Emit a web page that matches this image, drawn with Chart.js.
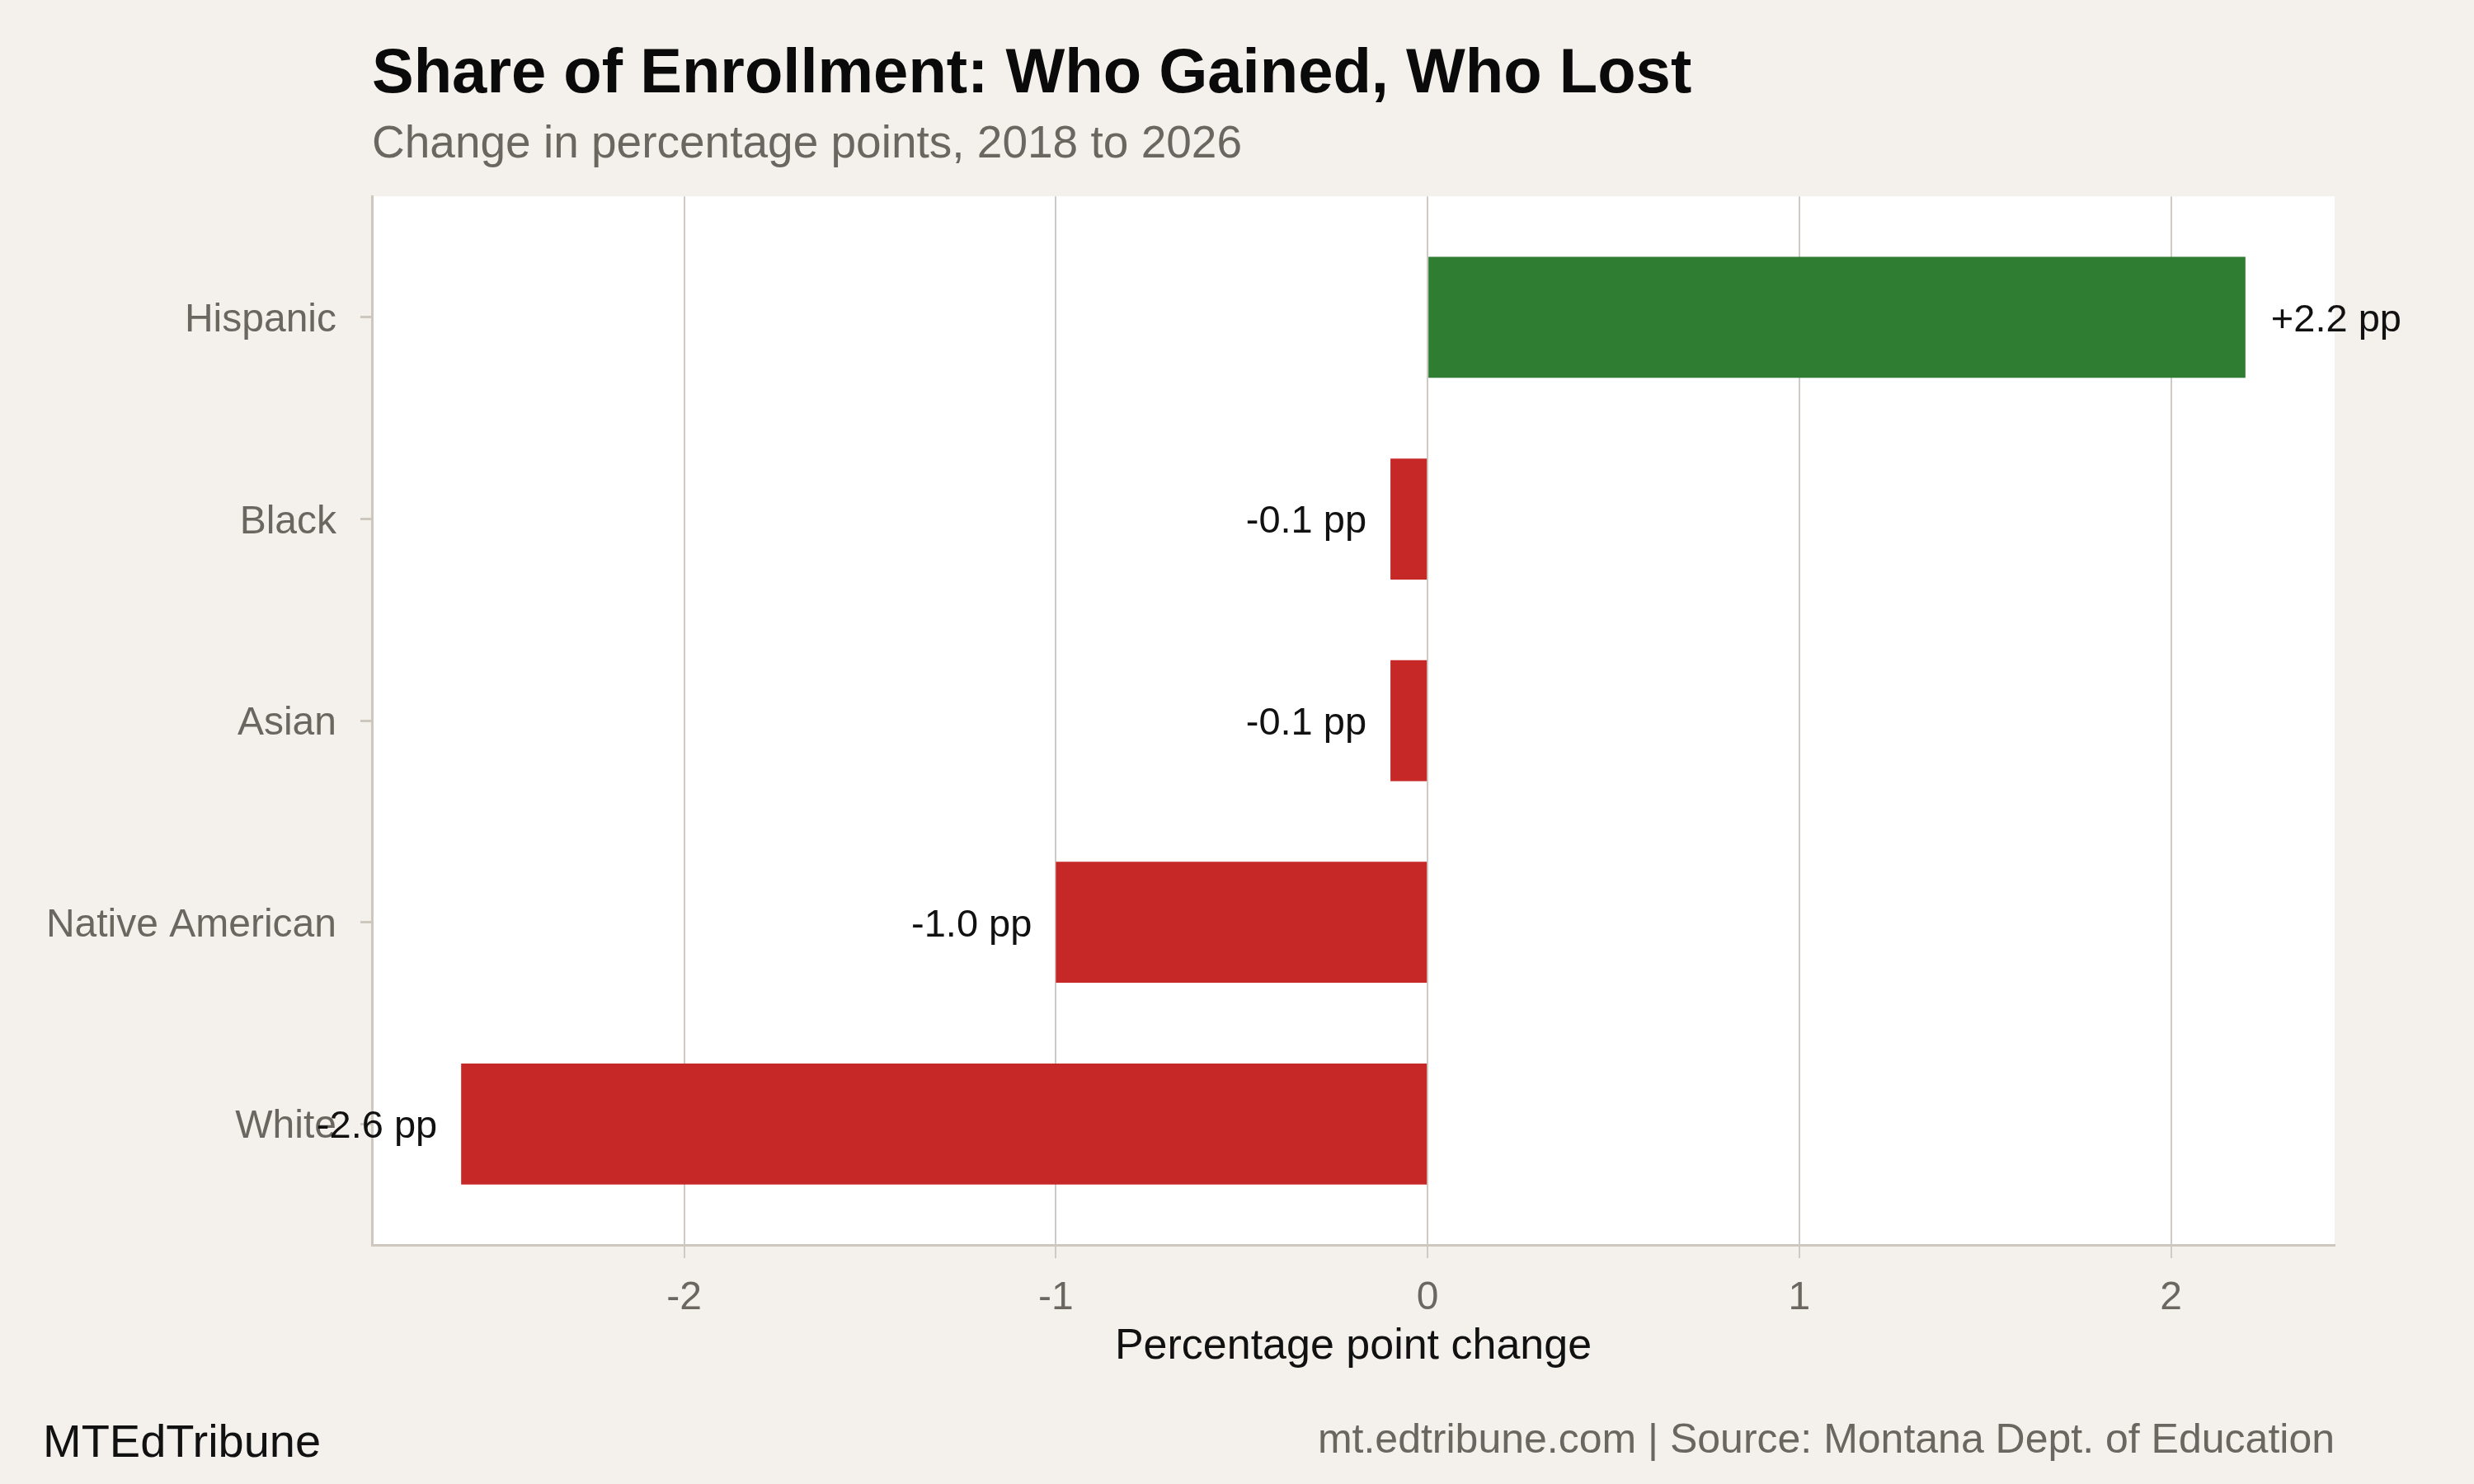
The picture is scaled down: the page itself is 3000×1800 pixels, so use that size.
<!DOCTYPE html>
<html>
<head>
<meta charset="utf-8">
<script src="https://cdn.jsdelivr.net/npm/chart.js@4/dist/chart.umd.min.js"></script>
<style>
  html, body { margin: 0; padding: 0; background: #f4f1ec; }
  #wrap { position: relative; width: 3000px; height: 1800px; overflow: hidden; }
  canvas { display: block; }
  .foot { position: absolute; top: 1720px; line-height: 1; white-space: nowrap; font-family: 'Liberation Sans', Arial, sans-serif; }
  #brand { left: 52px; font-size: 56px; color: #111111; }
  #source { right: 169px; font-size: 50px; color: #6b6760; }
</style>
</head>
<body>
<div id="wrap">
  <canvas id="c" width="3000" height="1800" style="width:3000px;height:1800px"></canvas>
  <div class="foot" id="brand">MTEdTribune</div>
  <div class="foot" id="source">mt.edtribune.com | Source: Montana Dept. of Education</div>
</div>
<script>
const categories = ['Hispanic', 'Black', 'Asian', 'Native American', 'White'];
const changes = [2.2, -0.1, -0.1, -1.0, -2.6];
const xTicks = [-2, -1, 0, 1, 2];

const FONT = "'Liberation Sans', Arial, sans-serif";
const GAIN = '#2e7d32';
const LOSS = '#c62828';
const GRID = '#cfcbc4';
const AXIS = '#cdc7bd';
const MUTED = '#6b6760';

const bgPlugin = {
  id: 'bg',
  beforeDraw(chart) {
    const { ctx, chartArea: a } = chart;
    ctx.save();
    ctx.fillStyle = '#f4f1ec';
    ctx.fillRect(0, 0, chart.width, chart.height);
    ctx.fillStyle = '#ffffff';
    ctx.fillRect(a.left, a.top, a.right - a.left, a.bottom - a.top);
    ctx.restore();
  }
};

const labelPlugin = {
  id: 'valueLabels',
  afterDatasetsDraw(chart) {
    const { ctx } = chart;
    const meta = chart.getDatasetMeta(0);
    ctx.save();
    ctx.font = '47px ' + FONT;
    ctx.fillStyle = '#111111';
    ctx.textBaseline = 'middle';
    meta.data.forEach((bar, i) => {
      const v = changes[i];
      const txt = (v > 0 ? '+' : '') + v.toFixed(1) + ' pp';
      if (v >= 0) {
        ctx.textAlign = 'left';
        ctx.fillText(txt, bar.x + 31, bar.y + 4);
      } else {
        ctx.textAlign = 'right';
        ctx.fillText(txt, bar.x - 29, bar.y + 4);
      }
    });
    ctx.restore();
  }
};

new Chart(document.getElementById('c'), {
  type: 'bar',
  data: {
    datasets: [{
      data: changes.map((v, i) => ({ x: v, y: i })),
      backgroundColor: changes.map(v => v >= 0 ? GAIN : LOSS),
      borderWidth: 0,
      barPercentage: 0.6,
      categoryPercentage: 1.0
    }]
  },
  options: {
    indexAxis: 'y',
    responsive: false,
    devicePixelRatio: 1,
    animation: false,
    layout: { padding: { left: 0, right: 169, top: 0, bottom: 0 } },
    plugins: {
      legend: { display: false },
      tooltip: { enabled: false },
      title: {
        display: true,
        text: 'Share of Enrollment: Who Gained, Who Lost',
        align: 'start',
        fullSize: false,
        color: '#0a0a0a',
        font: { family: FONT, size: 76, weight: 'bold' },
        padding: { top: 45, bottom: 0 }
      },
      subtitle: {
        display: true,
        text: 'Change in percentage points, 2018 to 2026',
        align: 'start',
        fullSize: false,
        color: MUTED,
        font: { family: FONT, size: 55 },
        padding: { top: 7, bottom: 29 }
      }
    },
    scales: {
      x: {
        type: 'linear',
        min: -2.84,
        max: 2.44,
        afterBuildTicks: s => { s.ticks = xTicks.map(v => ({ value: v })); },
        afterFit: s => { s.height = 290; },
        grid: { color: GRID, lineWidth: 2, tickLength: 16, tickColor: GRID, tickWidth: 2 },
        border: { display: true, color: AXIS, width: 3 },
        ticks: { color: MUTED, font: { family: FONT, size: 48 }, padding: 20, maxRotation: 0 },
        title: {
          display: true,
          text: 'Percentage point change',
          color: '#111111',
          font: { family: FONT, size: 52 },
          padding: { top: 0, bottom: 135 }
        }
      },
      y: {
        type: 'linear',
        reverse: true,
        offset: false,
        min: -0.6,
        max: 4.6,
        afterBuildTicks: s => { s.ticks = categories.map((c, i) => ({ value: i })); },
        afterFit: s => { s.width = 451; },
        grid: { offset: false, drawOnChartArea: false, color: AXIS, tickLength: 14, tickColor: AXIS, tickWidth: 3 },
        border: { display: true, color: AXIS, width: 3 },
        ticks: {
          color: MUTED,
          font: { family: FONT, size: 48 },
          padding: 29,
          labelOffset: 4,
          callback: v => categories[v] !== undefined ? categories[v] : ''
        }
      }
    }
  },
  plugins: [bgPlugin, labelPlugin]
});
</script>
</body>
</html>
